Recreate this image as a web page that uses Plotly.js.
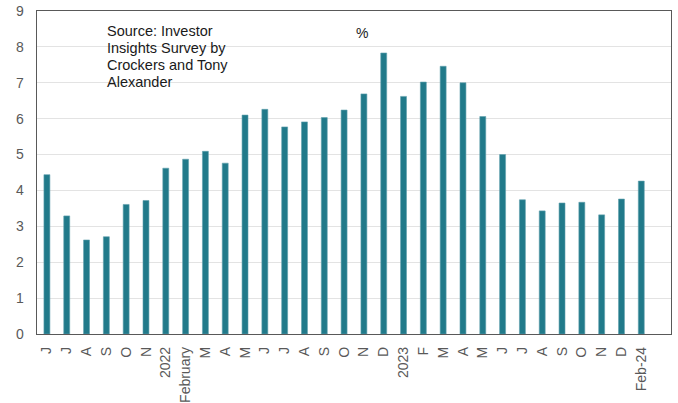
<!DOCTYPE html>
<html><head><meta charset="utf-8">
<script src="https://cdn.plot.ly/plotly-3.0.1.min.js"></script>
<style>html,body{margin:0;padding:0;background:#fff;}#c{width:678px;height:403px;}</style>
</head><body><div id="c"></div>
<script>
const categories = ["J","J","A","S","O","N","2022","February","M","A","M","J","J","A","S","O","N","D","2023","F","M","A","M","J","J","A","S","O","N","D","Feb-24"];
const values = [4.44,3.29,2.62,2.71,3.61,3.72,4.62,4.87,5.09,4.76,6.10,6.26,5.77,5.91,6.03,6.24,6.69,7.83,6.62,7.02,7.46,7.00,6.06,5.00,3.74,3.43,3.65,3.67,3.32,3.76,4.26];
const yTicks = [0,1,2,3,4,5,6,7,8,9];
const sourceLines = ["Source: Investor","Insights Survey by","Crockers and Tony","Alexander"];
const unitText = "%";

const idx = categories.map((c,i)=>i);
const data = [{
  type: "bar",
  x: idx,
  y: values,
  width: 0.3,
  marker: {color: "#217A8A", line: {color: "#5FA0AC", width: 0.6}},
  hoverinfo: "none"
}];
const lineGap = 16.9/323;
const annotations = sourceLines.map((t,i)=>({
  text: t, xref: "paper", yref: "paper", x: 0.107, y: (334-31)/323 - i*lineGap,
  xanchor: "left", yanchor: "middle", align: "left", showarrow: false,
  font: {size: 14.5, color: "#1a1a1a"}
}));
annotations.push({text: unitText, xref: "paper", yref: "paper", x: (362-37)/634, y: (334-32.5)/323,
  xanchor: "center", yanchor: "middle", showarrow: false, font: {size: 14, color: "#1a1a1a"}});

const layout = {
  width: 678, height: 403,
  margin: {l: 37, r: 7, t: 11, b: 69},
  paper_bgcolor: "#fff", plot_bgcolor: "#fff",
  showlegend: false,
  font: {family: "Liberation Sans, Arial, sans-serif", color: "#595959"},
  xaxis: {
    range: [-0.5, 31.5],
    tickmode: "array",
    tickvals: idx,
    ticktext: categories,
    tickangle: -90,
    tickfont: {size: 14, color: "#595959"},
    ticklabelstandoff: 6,
    showgrid: false, zeroline: false,
    showline: true, linecolor: "#595959", linewidth: 1.3,
    mirror: true,
    ticks: "", fixedrange: true
  },
  yaxis: {
    range: [0, 9],
    tickmode: "array",
    tickvals: yTicks,
    tickfont: {size: 14, color: "#595959"},
    ticklabelstandoff: 9,
    showgrid: true, gridcolor: "#E3E3E3", gridwidth: 1,
    zeroline: false,
    showline: true, linecolor: "#595959", linewidth: 1.3,
    mirror: true,
    ticks: "", fixedrange: true
  },
  annotations: annotations
};
Plotly.newPlot("c", data, layout, {staticPlot: true, displayModeBar: false});
</script></body></html>
